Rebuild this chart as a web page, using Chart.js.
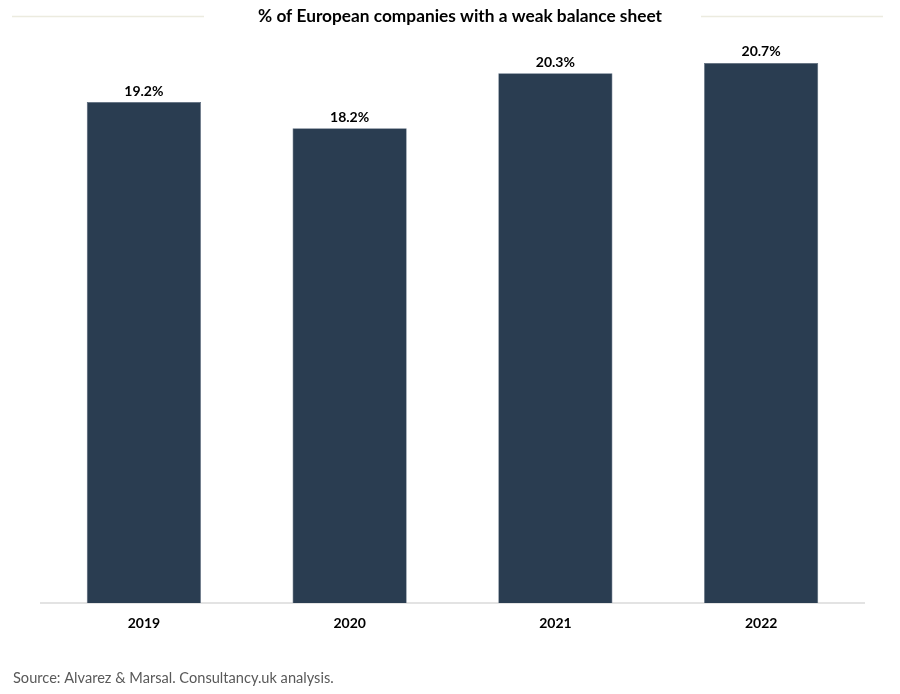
<!DOCTYPE html>
<html>
<head>
<meta charset="utf-8">
<script src="https://cdn.jsdelivr.net/npm/chart.js@4.4.0/dist/chart.umd.min.js"></script>
<style>
  html, body { margin: 0; padding: 0; background: #fff; }
  #wrap { width: 900px; height: 694px; position: relative; }
</style>
</head>
<body>
<div id="wrap"><canvas id="chart" width="900" height="694"></canvas></div>
<script>
const chartTitle = '% of European companies with a weak balance sheet';
const sourceNote = 'Source: Alvarez & Marsal. Consultancy.uk analysis.';
const years = ['2019', '2020', '2021', '2022'];
const weakShare = [19.2, 18.2, 20.3, 20.7];

const FONT = 'Lato, "DejaVu Sans Condensed", sans-serif';

const decorations = {
    id: 'decorations',
    afterDraw(chart) {
        const ctx = chart.ctx;
        ctx.save();
        // title with thin lines either side
        ctx.font = 'bold 17.3px ' + FONT;
        ctx.fillStyle = '#000';
        ctx.textAlign = 'center';
        ctx.textBaseline = 'middle';
        ctx.fillText(chartTitle, 460, 16.5);
        ctx.strokeStyle = '#ecebdf';
        ctx.lineWidth = 1.5;
        ctx.beginPath();
        ctx.moveTo(12, 16.5); ctx.lineTo(204, 16.5);
        ctx.moveTo(701, 16.5); ctx.lineTo(883, 16.5);
        ctx.stroke();

        // value labels above bars
        const meta = chart.getDatasetMeta(0);
        ctx.font = 'bold 14px ' + FONT;
        ctx.textBaseline = 'middle';
        meta.data.forEach((bar, i) => {
            ctx.fillText(weakShare[i].toFixed(1) + '%', bar.x, bar.y - 11);
        });

        // source
        ctx.font = '14.6px ' + FONT;
        ctx.fillStyle = '#595959';
        ctx.textAlign = 'left';
        ctx.fillText(sourceNote, 13, 678);
        ctx.restore();
    }
};

new Chart(document.getElementById('chart'), {
    type: 'bar',
    data: {
        labels: years,
        datasets: [{
            data: weakShare,
            backgroundColor: '#2a3d51',
            borderColor: '#56677a',
            borderWidth: 0.6,
            categoryPercentage: 1,
            barPercentage: 0.555
        }]
    },
    options: {
        responsive: false,
        animation: false,
        layout: { padding: { left: 41, right: 36, top: 29, bottom: 31 } },
        plugins: {
            legend: { display: false },
            tooltip: { enabled: false }
        },
        scales: {
            x: {
                grid: { display: false },
                border: { display: true, color: '#e3e3e3', width: 2 },
                ticks: {
                    color: '#000',
                    font: { family: FONT, size: 14, weight: 'bold' },
                    padding: 4
                },
                afterFit: s => { s.height = 60; }
            },
            y: {
                display: false,
                min: 0,
                max: 22
            }
        }
    },
    plugins: [decorations]
});
</script>
</body>
</html>
